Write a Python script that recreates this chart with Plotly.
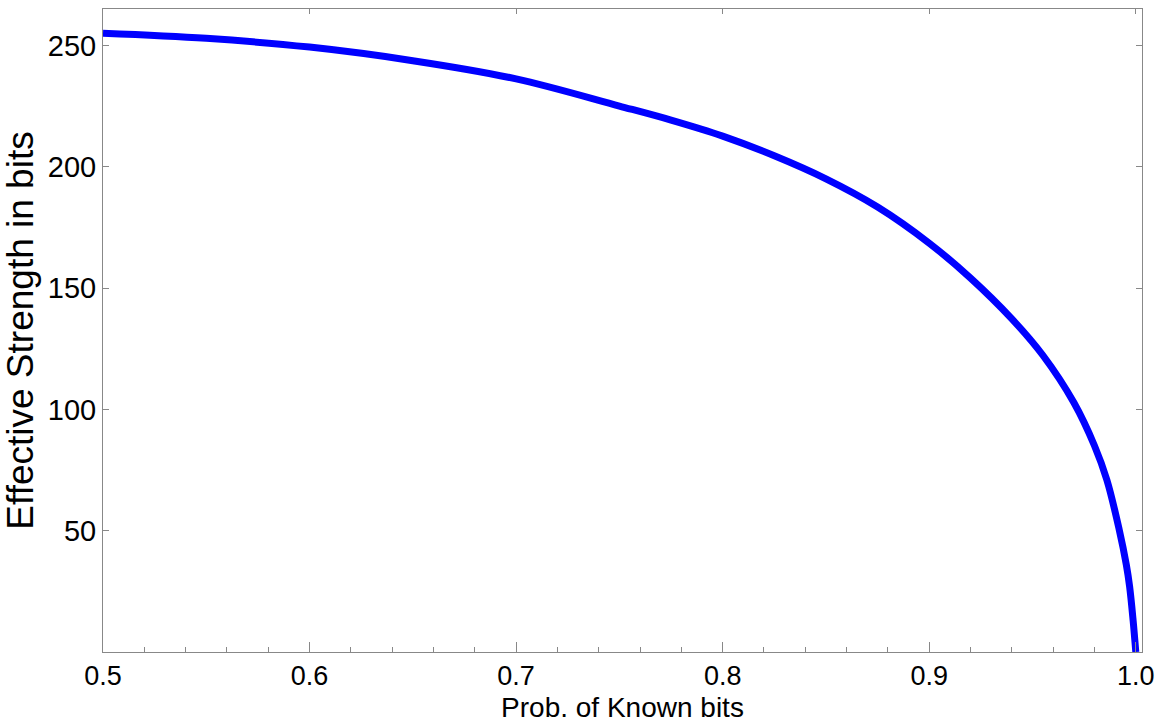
import plotly.graph_objects as go

# Data
prob_known = [0.50, 0.55, 0.60, 0.65, 0.70, 0.75, 0.775, 0.80, 0.825, 0.85, 0.875,
              0.90, 0.92, 0.94, 0.955, 0.97, 0.98, 0.986, 0.992, 0.9954, 0.997,
              0.9987, 1.0]
strength_bits = [255, 252.9, 249.3, 243.7, 236.2, 225.0, 219.2, 212.6, 204.5, 195.0, 183.4,
                 168.5, 154.1, 137.3, 122.3, 102.8, 85.0, 70.9, 50.3, 36.0, 27.0,
                 13.0, 0]

x_ticks = [0.5, 0.6, 0.7, 0.8, 0.9, 1.0]
x_ticktext = ["0.5", "0.6", "0.7", "0.8", "0.9", "1.0"]
y_ticks = [50, 100, 150, 200, 250]

FONT = "Liberation Sans, Arial, sans-serif"
AX = "#888888"
XR = [0.5, 1.003]
YR = [0, 265]

fig = go.Figure()
fig.add_trace(go.Scatter(
    x=prob_known, y=strength_bits, mode="lines",
    line=dict(color="#0000FF", width=7, shape="spline", smoothing=1.0),
    showlegend=False, hoverinfo="skip"))
fig.add_trace(go.Scatter(x=[None], y=[None], xaxis="x2", showlegend=False))

fig.update_layout(
    width=1162, height=728,
    margin=dict(l=103, r=20, t=9, b=76, autoexpand=False),
    paper_bgcolor="white", plot_bgcolor="white",
    font=dict(family=FONT, color="black"),
    xaxis=dict(
        range=XR, tickvals=x_ticks, ticktext=x_ticktext, automargin=False,
        ticks="inside", ticklen=10, tickcolor=AX, tickwidth=1,
        minor=dict(ticks="inside", ticklen=5, tickcolor=AX, dtick=0.02, tick0=0.5, showgrid=False),
        showline=True, linecolor=AX, linewidth=1, mirror=True,
        showgrid=False, zeroline=False,
        tickfont=dict(size=27, family=FONT, color="black"),
        title=dict(text="Prob. of Known bits", font=dict(size=28, family=FONT, color="black"), standoff=6),
    ),
    xaxis2=dict(
        range=XR, overlaying="x", side="top", anchor="y", automargin=False,
        tickvals=x_ticks, ticks="inside", ticklen=5, tickcolor=AX,
        showticklabels=False, showline=False, showgrid=False, zeroline=False,
    ),
    yaxis=dict(
        range=YR, tickvals=y_ticks, automargin=False,
        ticks="inside", ticklen=6, tickcolor=AX, tickwidth=1,
        showline=True, linecolor=AX, linewidth=1, mirror="ticks",
        showgrid=False, zeroline=False,
        tickfont=dict(size=29, family=FONT, color="black"),
        title=dict(text="Effective Strength in bits", font=dict(size=37, family=FONT, color="black"), standoff=4),
    ),
)

fig.write_html("out.html", config={"displayModeBar": False},
               post_script="document.body.style.margin='0';")
